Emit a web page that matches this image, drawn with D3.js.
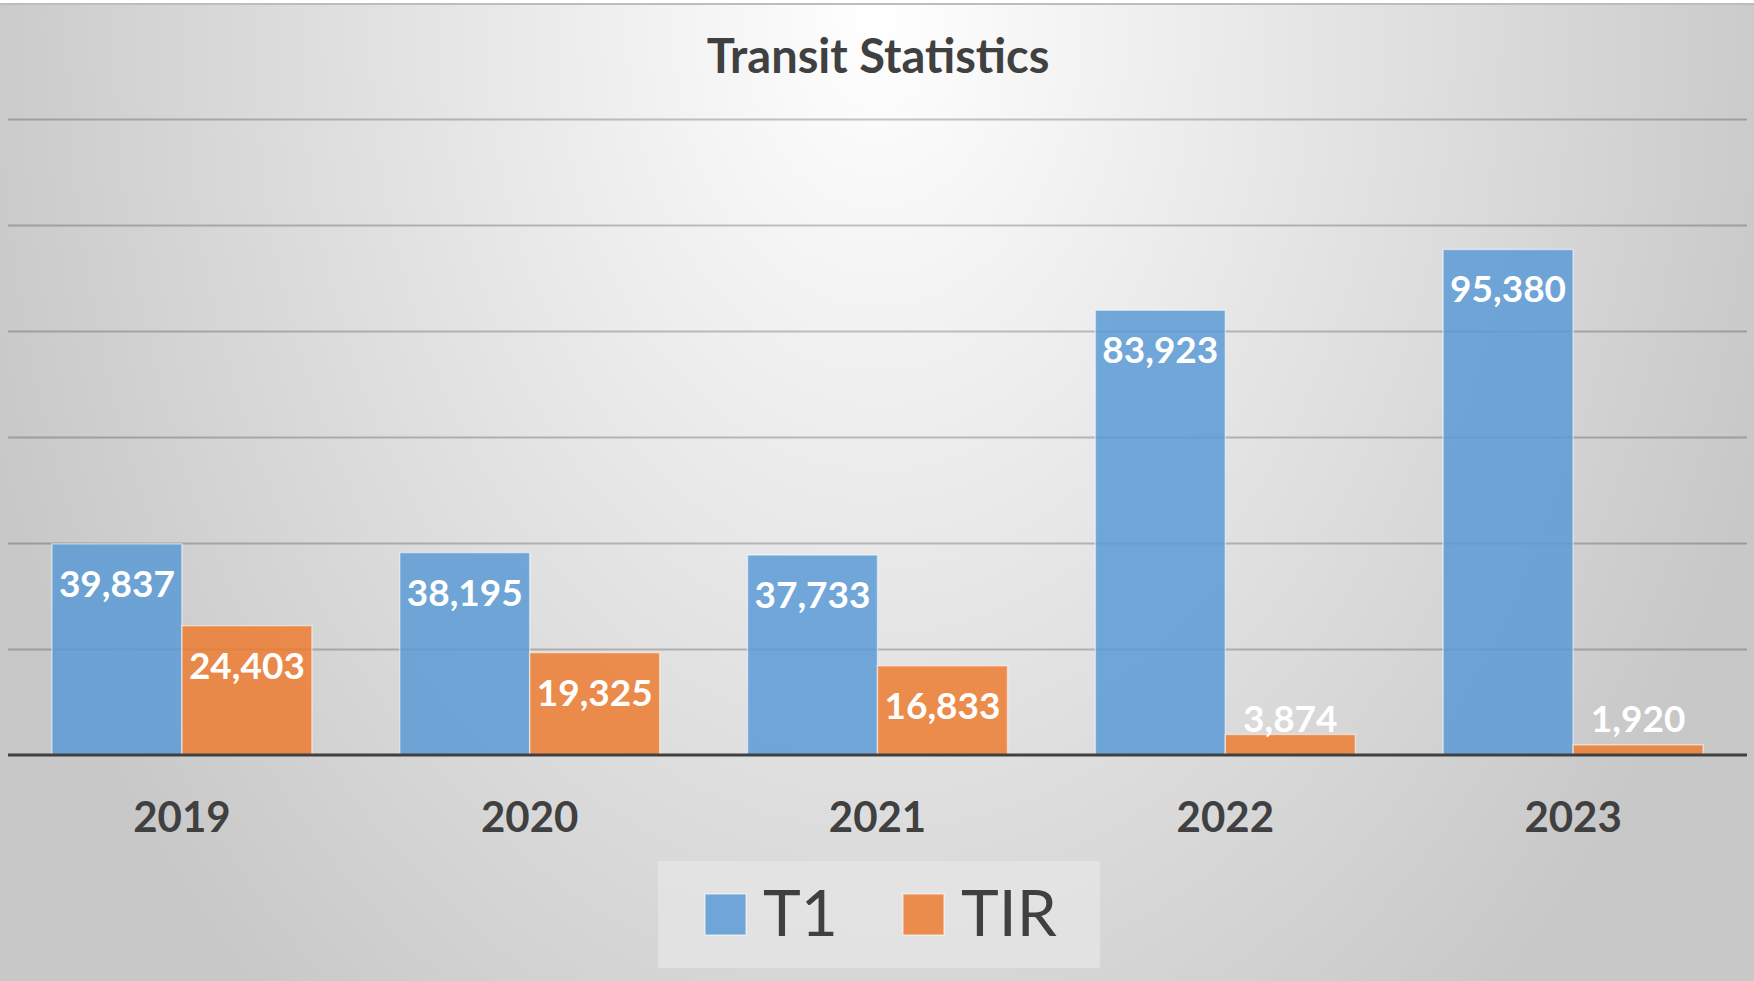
<!DOCTYPE html>
<html>
<head>
<meta charset="utf-8">
<script src="https://cdn.jsdelivr.net/npm/d3@7"></script>
<style>
  html, body { margin: 0; padding: 0; background: #fff; }
  svg { display: block; font-family: Lato, "Open Sans", sans-serif; }
</style>
</head>
<body>
<div id="chart"></div>
<script>
"use strict";

var years = ["2019", "2020", "2021", "2022", "2023"];
var seriesNames = ["T1", "TIR"];
var t1Values = [39837, 38195, 37733, 83923, 95380];
var tirValues = [24403, 19325, 16833, 3874, 1920];
var gridTicks = [0, 20000, 40000, 60000, 80000, 100000, 120000];
var colors = ["#5b9bd5", "#ed7d31"];

var W = 1754, H = 981;
var plot = { left: 8, right: 1747, top: 119, bottom: 755 };

var rows = years.map(function(y, i) {
  return { year: y, values: [t1Values[i], tirValues[i]] };
});

var svg = d3.select("#chart").append("svg")
  .attr("width", W)
  .attr("height", H);

// background gradient
var defs = svg.append("defs");
var grad = defs.append("radialGradient")
  .attr("id", "bg")
  .attr("gradientUnits", "userSpaceOnUse")
  .attr("cx", 877).attr("cy", 20).attr("r", 930)
  .attr("gradientTransform", "translate(877,20) scale(1,1.4) translate(-877,-20)");
grad.append("stop").attr("offset", 0).attr("stop-color", "#ffffff");
grad.append("stop").attr("offset", 1).attr("stop-color", "#c8c8c8");

svg.append("rect")
  .attr("x", 0).attr("y", 4).attr("width", W).attr("height", H - 4)
  .attr("fill", "url(#bg)");
svg.append("line")
  .attr("x1", 0).attr("x2", W).attr("y1", 4).attr("y2", 4)
  .attr("stroke", "#bdbdbd").attr("stroke-width", 2);

// scales
var x0 = d3.scaleBand()
  .domain(years)
  .range([plot.left, plot.right])
  .paddingInner(0.2525)
  .paddingOuter(0.2525 / 2);

var x1 = d3.scaleBand()
  .domain(d3.range(seriesNames.length))
  .range([0, x0.bandwidth()]);

var y = d3.scaleLinear()
  .domain([0, 120000])
  .range([plot.bottom, plot.top]);

// gridlines
var grid = svg.append("g")
  .attr("transform", "translate(" + plot.left + ",0)")
  .call(d3.axisLeft(y).tickValues(gridTicks.slice(1)).tickSize(-(plot.right - plot.left)).tickFormat(""));
grid.select(".domain").remove();
grid.selectAll(".tick line")
  .attr("stroke", "#000")
  .attr("stroke-opacity", 0.22)
  .attr("stroke-width", 2);

// bars
var groups = svg.selectAll("g.year")
  .data(rows)
  .enter().append("g")
    .attr("class", "year")
    .attr("transform", function(d) { return "translate(" + x0(d.year) + ",0)"; });

groups.selectAll("rect")
  .data(function(d) { return d.values; })
  .enter().append("rect")
    .attr("x", function(d, i) { return x1(i); })
    .attr("y", function(d) { return y(d); })
    .attr("width", x1.bandwidth())
    .attr("height", function(d) { return y(0) - y(d); })
    .attr("fill", function(d, i) { return colors[i]; })
    .attr("fill-opacity", 0.85)
    .attr("stroke", "#fff")
    .attr("stroke-opacity", 0.5)
    .attr("stroke-width", 1.5);

// value labels (inside end, kept above the axis when bar is short)
var fmt = d3.format(",");
groups.selectAll("text.val")
  .data(function(d) { return d.values; })
  .enter().append("text")
    .attr("class", "val")
    .attr("x", function(d, i) { return x1(i) + x1.bandwidth() / 2; })
    .attr("y", function(d) { return Math.min(y(d) + 53, y(0) - 23); })
    .attr("text-anchor", "middle")
    .attr("fill", "#fff")
    .attr("font-weight", 700)
    .attr("font-size", 37)
    .text(function(d) { return fmt(d); });

// baseline
svg.append("line")
  .attr("x1", plot.left).attr("x2", plot.right)
  .attr("y1", y(0)).attr("y2", y(0))
  .attr("stroke", "#404040").attr("stroke-width", 3);

// category axis
var xAxis = svg.append("g")
  .attr("transform", "translate(0," + y(0) + ")")
  .call(d3.axisBottom(x0).tickSize(0));
xAxis.select(".domain").remove();
xAxis.selectAll("text")
  .attr("y", 77)
  .attr("dy", 0)
  .attr("fill", "#404040")
  .attr("font-family", "Lato, sans-serif")
  .attr("font-weight", 700)
  .attr("font-size", 42);

// title
svg.append("text")
  .attr("x", 878).attr("y", 73)
  .attr("text-anchor", "middle")
  .attr("fill", "#404040")
  .attr("font-weight", 700)
  .attr("font-size", 47)
  .text("Transit Statistics");

// legend
var legend = svg.append("g");
legend.append("rect")
  .attr("x", 658).attr("y", 861).attr("width", 442).attr("height", 107)
  .attr("fill", "#e6e6e6").attr("fill-opacity", 0.75);

var legendX = [705, 903];
var items = legend.selectAll("g.item")
  .data(seriesNames)
  .enter().append("g")
    .attr("class", "item")
    .attr("transform", function(d, i) { return "translate(" + legendX[i] + ",894)"; });
items.append("rect")
  .attr("width", 41).attr("height", 41)
  .attr("fill", function(d, i) { return colors[i]; })
  .attr("fill-opacity", 0.85)
  .attr("stroke", "#fff").attr("stroke-opacity", 0.5).attr("stroke-width", 1.5);
items.append("text")
  .attr("x", 58).attr("y", 42)
  .attr("fill", "#404040")
  .attr("font-size", 64)
  .text(function(d) { return d; });
</script>
</body>
</html>
